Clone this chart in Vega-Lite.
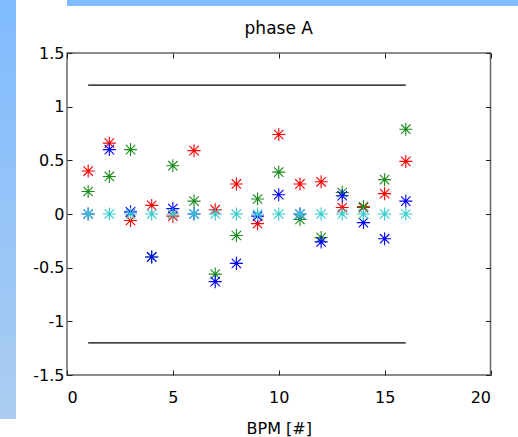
{
  "$schema": "https://vega.github.io/schema/vega-lite/v6.json",
  "padding": 0,
  "background": "white",
  "spacing": 0,
  "config": {
    "view": {"stroke": null},
    "font": "DejaVu Sans",
    "axis": {"grid": false, "domain": false, "tickColor": "#222222", "tickSize": -5, "labelFont": "DejaVu Sans", "labelFontSize": 16, "labelColor": "black", "titleFont": "DejaVu Sans", "titleFontSize": 16, "titleFontWeight": "normal", "titleColor": "black"}
  },
  "datasets": {
    "pts": [
      {"bpm": 1, "v": 0.40, "s": "r"}, {"bpm": 2, "v": 0.66, "s": "r"}, {"bpm": 3, "v": -0.06, "s": "r"}, {"bpm": 4, "v": 0.08, "s": "r"},
      {"bpm": 5, "v": -0.02, "s": "r"}, {"bpm": 6, "v": 0.59, "s": "r"}, {"bpm": 7, "v": 0.04, "s": "r"}, {"bpm": 8, "v": 0.28, "s": "r"},
      {"bpm": 9, "v": -0.09, "s": "r"}, {"bpm": 10, "v": 0.74, "s": "r"}, {"bpm": 11, "v": 0.28, "s": "r"}, {"bpm": 12, "v": 0.30, "s": "r"},
      {"bpm": 13, "v": 0.06, "s": "r"}, {"bpm": 14, "v": 0.06, "s": "r"}, {"bpm": 15, "v": 0.19, "s": "r"}, {"bpm": 16, "v": 0.49, "s": "r"},
      {"bpm": 1, "v": 0.21, "s": "g"}, {"bpm": 2, "v": 0.35, "s": "g"}, {"bpm": 3, "v": 0.60, "s": "g"}, {"bpm": 4, "v": -0.40, "s": "g"},
      {"bpm": 5, "v": 0.45, "s": "g"}, {"bpm": 6, "v": 0.12, "s": "g"}, {"bpm": 7, "v": -0.56, "s": "g"}, {"bpm": 8, "v": -0.20, "s": "g"},
      {"bpm": 9, "v": 0.14, "s": "g"}, {"bpm": 10, "v": 0.39, "s": "g"}, {"bpm": 11, "v": -0.05, "s": "g"}, {"bpm": 12, "v": -0.22, "s": "g"},
      {"bpm": 13, "v": 0.20, "s": "g"}, {"bpm": 14, "v": 0.07, "s": "g"}, {"bpm": 15, "v": 0.32, "s": "g"}, {"bpm": 16, "v": 0.79, "s": "g"},
      {"bpm": 1, "v": 0.0, "s": "b"}, {"bpm": 2, "v": 0.60, "s": "b"}, {"bpm": 3, "v": 0.02, "s": "b"}, {"bpm": 4, "v": -0.40, "s": "b"},
      {"bpm": 5, "v": 0.05, "s": "b"}, {"bpm": 6, "v": 0.0, "s": "b"}, {"bpm": 7, "v": -0.63, "s": "b"}, {"bpm": 8, "v": -0.46, "s": "b"},
      {"bpm": 9, "v": -0.02, "s": "b"}, {"bpm": 10, "v": 0.18, "s": "b"}, {"bpm": 11, "v": 0.0, "s": "b"}, {"bpm": 12, "v": -0.26, "s": "b"},
      {"bpm": 13, "v": 0.17, "s": "b"}, {"bpm": 14, "v": -0.08, "s": "b"}, {"bpm": 15, "v": -0.23, "s": "b"}, {"bpm": 16, "v": 0.12, "s": "b"},
      {"bpm": 1, "v": 0, "s": "c"}, {"bpm": 2, "v": 0, "s": "c"}, {"bpm": 3, "v": 0, "s": "c"}, {"bpm": 4, "v": 0, "s": "c"},
      {"bpm": 5, "v": 0, "s": "c"}, {"bpm": 6, "v": 0, "s": "c"}, {"bpm": 7, "v": 0, "s": "c"}, {"bpm": 8, "v": 0, "s": "c"},
      {"bpm": 9, "v": 0, "s": "c"}, {"bpm": 10, "v": 0, "s": "c"}, {"bpm": 11, "v": 0, "s": "c"}, {"bpm": 12, "v": 0, "s": "c"},
      {"bpm": 13, "v": 0, "s": "c"}, {"bpm": 14, "v": 0, "s": "c"}, {"bpm": 15, "v": 0, "s": "c"}, {"bpm": 16, "v": 0, "s": "c"}
    ],
    "lims": [
      {"x1": 1, "x2": 16, "y": 1.2},
      {"x1": 1, "x2": 16, "y": -1.2}
    ],
    "none": []
  },
  "hconcat": [
    {
      "width": 16,
      "height": 419,
      "view": {"stroke": null, "fill": {"gradient": "linear", "x1": 0, "y1": 0, "x2": 0, "y2": 1, "stops": [{"offset": 0, "color": "#7fbbff"}, {"offset": 1, "color": "#abcdf0"}]}},
      "data": {"name": "none"},
      "mark": "rule",
      "encoding": {}
    },
    {
      "columns": 1,
      "align": "none",
      "spacing": 13,
      "concat": [
        {
          "width": 502,
          "height": 6,
          "view": {"stroke": null, "fill": "#7fbbff"},
          "data": {"name": "none"},
          "mark": "rule",
          "encoding": {}
        },
        {
          "width": 423.5,
          "height": 322,
          "view": {"stroke": "#666666", "strokeWidth": 1.5},
          "title": {"text": "phase A", "fontSize": 17, "fontWeight": "normal", "font": "DejaVu Sans", "color": "black", "offset": 7},
          "layer": [
            {
              "data": {"name": "lims"},
              "mark": {"type": "rule", "color": "black", "strokeWidth": 1.2},
              "encoding": {
                "x": {"field": "x1", "type": "quantitative", "scale": {"domain": [0, 20], "nice": false}, "axis": {"orient": "bottom", "values": [0, 5, 10, 15, 20], "title": "BPM [#]", "labelPadding": 19, "titlePadding": 15}},
                "x2": {"field": "x2"},
                "y": {"field": "y", "type": "quantitative", "scale": {"domain": [-1.5, 1.5], "nice": false}, "axis": {"orient": "left", "values": [-1.5, -1, -0.5, 0, 0.5, 1, 1.5], "labelExpr": "datum.value + ''", "title": null, "labelPadding": 8, "minExtent": 50, "maxExtent": 50}}
              }
            },
            {
              "data": {"name": "pts"},
              "mark": {"type": "point", "shape": "M-1,0L1,0M0,-1L0,1M-0.72,-0.72L0.72,0.72M-0.72,0.72L0.72,-0.72", "filled": false, "size": 170, "strokeWidth": 1.1, "opacity": 1},
              "encoding": {
                "x": {"field": "bpm", "type": "quantitative", "axis": {"orient": "top", "values": [0, 5, 10, 15, 20], "labels": false, "title": null}},
                "y": {"field": "v", "type": "quantitative", "axis": {"orient": "right", "values": [-1.5, -1, -0.5, 0, 0.5, 1, 1.5], "labels": false, "title": null}},
                "color": {"field": "s", "type": "nominal", "scale": {"domain": ["r", "g", "b", "c"], "range": ["#ff0000", "#1a8c1a", "#0000ff", "#33cccc"]}, "legend": null}
              }
            }
          ],
          "resolve": {"axis": {"x": "independent", "y": "independent"}}
        }
      ]
    }
  ]
}
